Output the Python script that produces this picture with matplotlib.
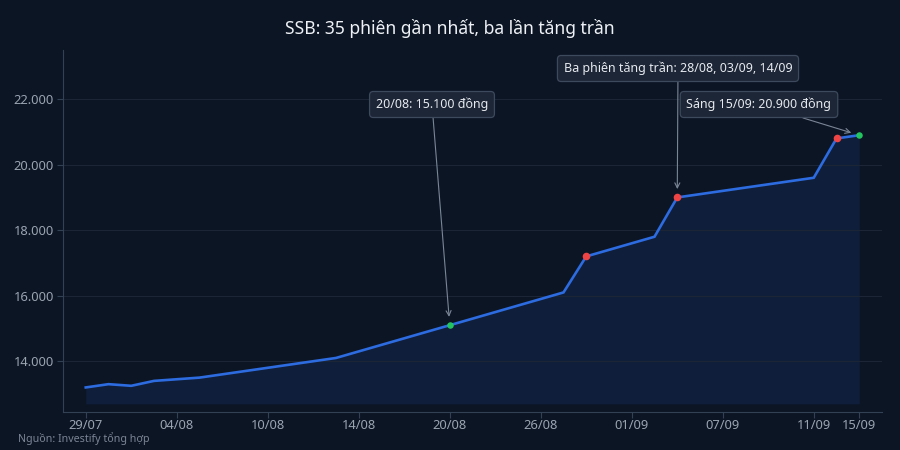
import matplotlib
matplotlib.use("Agg")
import matplotlib.pyplot as plt
from matplotlib.ticker import FuncFormatter

plt.rcParams['font.family'] = ['Noto Sans', 'DejaVu Sans']

# ---- data ----
prices = [13200, 13300, 13250, 13400, 13450, 13500,
          13600, 13700, 13800, 13900, 14000, 14100,
          14300, 14500, 14700, 14900, 15100,
          15300, 15500, 15700, 15900, 16100,
          17200, 17400, 17600, 17800,
          19000, 19100, 19200, 19300, 19400, 19500, 19600,
          20800, 20900]
tick_idx = [0, 4, 8, 12, 16, 20, 24, 28, 32, 34]
tick_labels = ["29/07", "04/08", "10/08", "14/08", "20/08", "26/08",
               "01/09", "07/09", "11/09", "15/09"]
ceiling_idx = [22, 26, 33]
highlight_idx = [16, 34]
y_ticks = [14000, 16000, 18000, 20000, 22000]
title = "SSB: 35 phiên gần nhất, ba lần tăng trần"
ann1 = "20/08: 15.100 đồng"
ann2 = "Ba phiên tăng trần: 28/08, 03/09, 14/09"
ann3 = "Sáng 15/09: 20.900 đồng"
source = "Nguồn: Investify tổng hợp"

BG = "#0c1524"
FILL = "#0f1e3a"
LINE = "#2d6be0"
GRID = "#1b2536"
SPINE = "#334155"
TICK = "#9aa3b0"

fig = plt.figure(figsize=(9, 4.5), dpi=100, facecolor=BG)
ax = fig.add_axes([0.07, 0.0844, 0.91, 0.8045], facecolor=BG)

x = list(range(len(prices)))
ax.fill_between(x, prices, 12700, color=FILL, lw=0, zorder=1)
ax.plot(x, prices, color=LINE, lw=1.9, zorder=3, solid_joinstyle='miter')
ax.scatter([x[i] for i in ceiling_idx], [prices[i] for i in ceiling_idx],
           s=30, color="#ef4444", zorder=4, linewidths=0)
ax.scatter([x[i] for i in highlight_idx], [prices[i] for i in highlight_idx],
           s=22, color="#22c55e", zorder=4, linewidths=0)

ax.set_xlim(-1, 35)
ax.set_ylim(12450, 23500)
ax.set_yticks(y_ticks)
ax.yaxis.set_major_formatter(FuncFormatter(lambda v, p: f"{int(v):,}".replace(",", ".")))
ax.set_xticks(tick_idx)
ax.set_xticklabels(tick_labels)
ax.grid(axis='y', color=GRID, lw=0.8, zorder=0)
ax.tick_params(colors=SPINE, labelcolor=TICK, labelsize=9.3, length=4, width=0.8, pad=2.5)
ax.tick_params(axis='x', pad=1.0)
for s in ['top', 'right']:
    ax.spines[s].set_visible(False)
for s in ['left', 'bottom']:
    ax.spines[s].set_color(SPINE)
    ax.spines[s].set_linewidth(0.8)

fig.text(0.5, 1 - 28 / 450, title, ha='center', va='center', color="#eef1f5", fontsize=12.6)
fig.text(18 / 900, 1 - 439 / 450, source, ha='left', va='center', color="#7a8494", fontsize=7.7)

bbox = dict(boxstyle="round,pad=0.5,rounding_size=0.3", fc="#1c2636", ec="#3d495c", lw=0.9)
arrow = dict(arrowstyle="->", color="#7a8596", lw=0.8, shrinkA=0, shrinkB=6, mutation_scale=9)

def annot(text, idx, px, py):
    ax.annotate(text, xy=(idx, prices[idx]), xycoords='data',
                xytext=(px, 450 - py), textcoords='figure pixels',
                ha='center', va='center', fontsize=9.0, color="#e6e9ee",
                bbox=bbox, arrowprops=arrow, zorder=6)

annot(ann1, 16, 432, 104.5)
annot(ann2, 26, 678, 68.5)
annot(ann3, 34, 759, 104.5)

fig.savefig("out.png", dpi=100, facecolor=BG)
